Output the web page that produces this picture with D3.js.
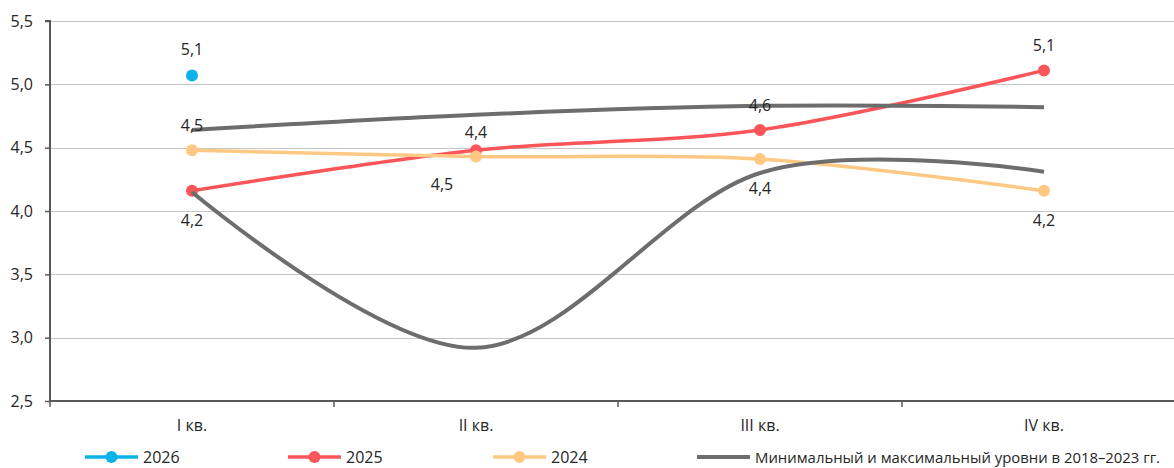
<!DOCTYPE html>
<html>
<head>
<meta charset="utf-8">
<script src="https://cdn.jsdelivr.net/npm/d3@7"></script>
<style>
  html, body { margin: 0; padding: 0; background: #fff; }
  svg { display: block; font-family: "Open Sans", "Noto Sans", sans-serif; }
</style>
</head>
<body>
<svg id="chart" width="1174" height="468"></svg>
<script>
// ---- DATA ----
const categories = ["I кв.", "II кв.", "III кв.", "IV кв."];
const yTicks = [2.5, 3.0, 3.5, 4.0, 4.5, 5.0, 5.5];
const yTickLabels = ["2,5", "3,0", "3,5", "4,0", "4,5", "5,0", "5,5"];

const values2026 = [5.07, null, null, null];
const labels2026 = ["5,1", null, null, null];

const values2025 = [4.16, 4.48, 4.64, 5.11];
const labels2025 = ["4,2", "4,4", "4,6", "5,1"];

const values2024 = [4.48, 4.43, 4.41, 4.16];
const labels2024 = ["4,5", "4,5", "4,4", "4,2"];

const valuesMax = [4.64, 4.76, 4.83, 4.82];
const valuesMin = [4.15, 2.92, 4.30, 4.31];

const legendNames = ["2026", "2025", "2024", "Минимальный и максимальный уровни в 2018–2023 гг."];

// ---- STYLE / LAYOUT ----
const colors = { c2026: "#0DB3E8", c2025: "#FA5559", c2024: "#FFC883", grey: "#6D6D6D" };
const svg = d3.select("#chart");
const W = 1174, H = 468;
const mLeft = 50, mTop = 21, mBottom = 401;
const bandW = 284;

const x = d3.scaleBand().domain(categories).range([mLeft, mLeft + bandW * categories.length]).padding(0);
const cx = c => x(c) + x.bandwidth() / 2;
const y = d3.scaleLinear().domain([2.5, 5.5]).range([mBottom, mTop]);

// gridlines
svg.append("g").selectAll("line").data(yTicks.filter(t => t > 2.5)).join("line")
  .attr("x1", mLeft).attr("x2", W)
  .attr("y1", d => Math.round(y(d)) + 0.5).attr("y2", d => Math.round(y(d)) + 0.5)
  .attr("stroke", "#C6C6C6").attr("stroke-width", 1);

// y axis
const yAxis = d3.axisLeft(y).tickValues(yTicks).tickFormat((d, i) => yTickLabels[i]).tickSize(5).tickPadding(12);
const gy = svg.append("g").attr("transform", `translate(${mLeft},0)`).call(yAxis);
gy.select(".domain").attr("stroke", "#595959").attr("stroke-width", 2).attr("d", `M-5,${mTop}H0V${mBottom}`);
gy.selectAll(".tick line").attr("stroke", "#595959").attr("stroke-width", 1.5);
gy.selectAll(".tick text").attr("fill", "#262626").style("font-size", "16px").style("font-family", "'Open Sans', sans-serif");

// x axis
const gx = svg.append("g").attr("transform", `translate(0,${mBottom})`);
gx.append("line").attr("x1", mLeft).attr("x2", W).attr("y1", 0).attr("y2", 0)
  .attr("stroke", "#595959").attr("stroke-width", 2);
gx.selectAll(".xt").data(categories).join("line").attr("class", "xt")
  .attr("x1", d => x(d)).attr("x2", d => x(d)).attr("y1", 0).attr("y2", 6)
  .attr("stroke", "#595959").attr("stroke-width", 1.5);
gx.selectAll(".xl").data(categories).join("text").attr("class", "xl")
  .attr("x", d => cx(d)).attr("y", 30).attr("text-anchor", "middle")
  .attr("fill", "#262626").style("font-size", "16px").text(d => d);

// lines
const curve = d3.curveCardinal.tension(0);
function lineFor(vals) {
  return d3.line().defined(d => d.v != null).x(d => cx(d.c)).y(d => y(d.v)).curve(curve)(
    categories.map((c, i) => ({ c, v: vals[i] })));
}
function drawSeries(vals, color, width, markers) {
  svg.append("path").attr("d", lineFor(vals)).attr("fill", "none")
    .attr("stroke", color).attr("stroke-width", width);
  if (markers) {
    svg.append("g").selectAll("circle")
      .data(categories.map((c, i) => ({ c, v: vals[i] })).filter(d => d.v != null))
      .join("circle").attr("cx", d => cx(d.c)).attr("cy", d => y(d.v)).attr("r", 6).attr("fill", color);
  }
}
drawSeries(values2026, colors.c2026, 3.5, true);
drawSeries(values2025, colors.c2025, 3.5, true);
drawSeries(values2024, colors.c2024, 3.5, true);
drawSeries(valuesMax, colors.grey, 4, false);
drawSeries(valuesMin, colors.grey, 4, false);

// data labels (placement offsets: dx, dy from point)
const place2026 = [[0, -26]];
const place2025 = [[0, 29], [0, -18], [0, -25], [0, -25]];
const place2024 = [[0, -25], [-34, 27], [0, 29], [0, 29]];
function drawLabels(vals, labels, place) {
  categories.forEach((c, i) => {
    if (vals[i] == null || labels[i] == null) return;
    const p = place[i];
    svg.append("text").attr("x", cx(c) + p[0]).attr("y", y(vals[i]) + p[1])
      .attr("text-anchor", "middle").attr("dominant-baseline", "central")
      .attr("fill", "#262626").style("font-size", "16px").text(labels[i]);
  });
}
drawLabels(values2026, labels2026, place2026);
drawLabels(values2025, labels2025, place2025);
drawLabels(values2024, labels2024, place2024);

// legend
const legY = 457;
const legendItems = [
  { name: legendNames[0], color: colors.c2026, x0: 85, marker: true },
  { name: legendNames[1], color: colors.c2025, x0: 288, marker: true },
  { name: legendNames[2], color: colors.c2024, x0: 493, marker: true },
  { name: legendNames[3], color: colors.grey, x0: 697, marker: false }
];
legendItems.forEach(it => {
  svg.append("line").attr("x1", it.x0).attr("x2", it.x0 + 53).attr("y1", legY).attr("y2", legY)
    .attr("stroke", it.color).attr("stroke-width", it.marker ? 3.5 : 4);
  if (it.marker) svg.append("circle").attr("cx", it.x0 + 26.5).attr("cy", legY).attr("r", 6).attr("fill", it.color);
  const t = svg.append("text").attr("x", it.x0 + 58).attr("y", legY).attr("dominant-baseline", "central")
    .attr("fill", "#262626").style("font-size", "16px").text(it.name);
  const maxW = 1160 - (it.x0 + 58);
  const len = t.node().getComputedTextLength();
  if (len > maxW) t.style("font-size", (16 * maxW / len).toFixed(2) + "px");
});
</script>
</body>
</html>
